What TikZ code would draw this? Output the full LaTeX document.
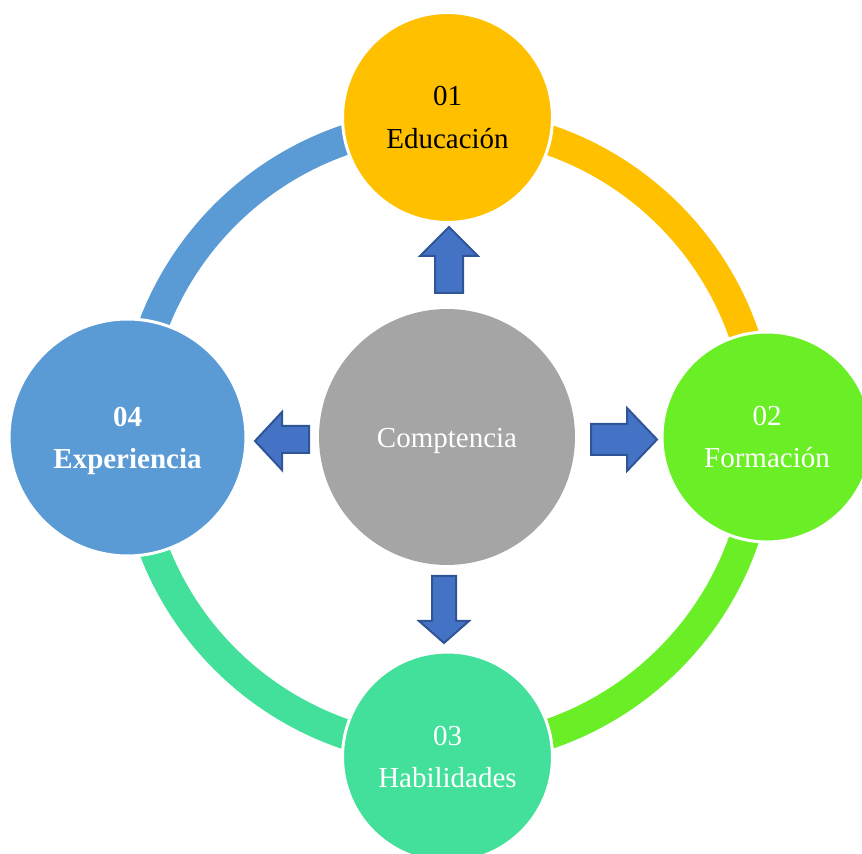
\documentclass[tikz,border=0pt]{standalone}
\usepackage{fontspec}
\setmainfont{Liberation Serif}
\definecolor{cOrange}{HTML}{FFC000}
\definecolor{cGreen}{HTML}{6AEE25}
\definecolor{cTeal}{HTML}{42E09A}
\definecolor{cBlue}{HTML}{5B9BD5}
\definecolor{cGray}{HTML}{A5A5A5}
\definecolor{cArrow}{HTML}{4472C4}
\definecolor{cArrowLine}{HTML}{2F5597}
\begin{document}
\begin{tikzpicture}[x=0.02cm,y=0.02cm,
  ringseg/.style={line width=0.6cm},
  bubble/.style={circle, draw=white, line width=0.06cm, inner sep=0pt, align=center,
    font=\fontsize{16.5}{24.3}\selectfont},
  blockarrow/.style={fill=cArrow, draw=cArrowLine, line width=0.04cm, line join=miter}]
\useasboundingbox (0,0) rectangle (862,854);
\coordinate (ctr) at (447,417);
% ring
\draw[ringseg, cOrange] ([shift={(90:314)}]ctr) arc[start angle=90, end angle=0, radius=314];
\draw[ringseg, cGreen] ([shift={(0:314)}]ctr) arc[start angle=0, end angle=-90, radius=314];
\draw[ringseg, cTeal] ([shift={(-90:314)}]ctr) arc[start angle=-90, end angle=-180, radius=314];
\draw[ringseg, cBlue] ([shift={(180:314)}]ctr) arc[start angle=180, end angle=90, radius=314];
% satellites
\node[bubble, fill=cOrange, text=black, minimum size=4.2cm] (edu) at (447.5,736.5) {01\\Educación};
\node[bubble, fill=cGreen, text=white, minimum size=4.2cm] (for) at (767,417) {02\\Formación};
\node[bubble, fill=cTeal, text=white, minimum size=4.2cm] (hab) at (447.5,97) {03\\Habilidades};
\node[bubble, fill=cBlue, text=white, minimum size=4.74cm, font=\fontsize{16.5}{24.3}\selectfont\bfseries] (exp) at (127.5,416.5) {\rule{0pt}{15pt}04\\Experiencia};
% center
\node[bubble, fill=cGray, text=white, draw=none, minimum size=5.12cm, text height=15.7pt, text depth=3.6pt] (comp) at (ctr) {Comptencia};
% block arrows
\draw[blockarrow] (435,561) -- (463,561) -- (463,598) -- (478,598) -- (449,627) -- (420,598) -- (435,598) -- cycle;
\draw[blockarrow] (591,399) -- (627,399) -- (627,383) -- (657,414.5) -- (627,446) -- (627,430) -- (591,430) -- cycle;
\draw[blockarrow] (309,401) -- (282,401) -- (282,384) -- (255,413) -- (282,442) -- (282,428) -- (309,428) -- cycle;
\draw[blockarrow] (432,278) -- (456,278) -- (456,233) -- (469,233) -- (444,211) -- (419,233) -- (432,233) -- cycle;
\end{tikzpicture}
\end{document}
